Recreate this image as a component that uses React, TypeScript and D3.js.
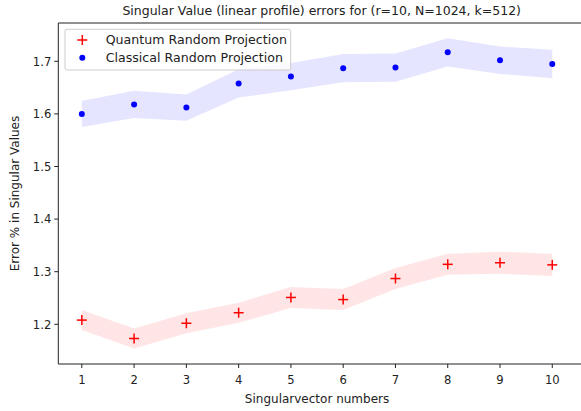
import React from "react";
import * as d3 from "d3";

const xs = [1, 2, 3, 4, 5, 6, 7, 8, 9, 10];
const quantum = [1.208, 1.173, 1.202, 1.222, 1.251, 1.247, 1.287, 1.314, 1.317, 1.313];
const quantumErr = [0.019, 0.019, 0.019, 0.019, 0.020, 0.020, 0.020, 0.020, 0.021, 0.021];
const classical = [1.600, 1.618, 1.612, 1.658, 1.671, 1.687, 1.688, 1.717, 1.702, 1.695];
const classicalErr = [0.025, 0.026, 0.025, 0.027, 0.026, 0.027, 0.027, 0.027, 0.026, 0.027];
const yTicks = [1.2, 1.3, 1.4, 1.5, 1.6, 1.7];
const title = "Singular Value (linear profile) errors for (r=10, N=1024, k=512)";
const xLabel = "Singularvector numbers";
const yLabel = "Error % in Singular Values";
const legendLabels = ["Quantum Random Projection", "Classical Random Projection"];

const W = 581, H = 411;
const L = 58.3, R = 575.8, T = 23, B = 364;
const font = "DejaVu Sans, sans-serif";

export default function App() {
  const x = d3.scaleLinear().domain([0.55, 10.45]).range([L, R]);
  const y = d3.scaleLinear().domain([1.7, 1.2]).range([61.3, 324.3]);
  const area = (vals: number[], errs: number[]) =>
    d3.area<number>()
      .x((_, i) => x(xs[i]))
      .y0((v, i) => y(v - errs[i]))
      .y1((v, i) => y(v + errs[i]))(vals) || "";
  return (
    <svg width={W} height={H} style={{ position: "absolute", left: 0, top: 0 }} fontFamily={font}>
      <rect width={W} height={H} fill="#fff" />
      <path d={area(classical, classicalErr)} fill="#0000ff" fillOpacity={0.1} />
      <path d={area(quantum, quantumErr)} fill="#ff0000" fillOpacity={0.1} />
      {classical.map((v, i) => (
        <circle key={"c" + i} cx={x(xs[i])} cy={y(v)} r={3} fill="#0000ff" />
      ))}
      {quantum.map((v, i) => (
        <g key={"q" + i} stroke="#ff0000" strokeWidth={1.5}>
          <line x1={x(xs[i]) - 5} x2={x(xs[i]) + 5} y1={y(v)} y2={y(v)} />
          <line x1={x(xs[i])} x2={x(xs[i])} y1={y(v) - 5} y2={y(v) + 5} />
        </g>
      ))}
      <g stroke="#222" strokeWidth={1} fill="none">
        <line x1={L} x2={L} y1={T} y2={B} />
        <line x1={L} x2={W} y1={B} y2={B} />
        <line x1={L} x2={W} y1={T} y2={T} />
      </g>
      {xs.map((t) => (
        <g key={"xt" + t}>
          <line x1={x(t)} x2={x(t)} y1={B} y2={B + 4} stroke="#222" />
          <text x={x(t)} y={B + 20} textAnchor="middle" fontSize={11.6} fill="#222">{t}</text>
        </g>
      ))}
      {yTicks.map((t) => (
        <g key={"yt" + t}>
          <line x1={L - 4} x2={L} y1={y(t)} y2={y(t)} stroke="#222" />
          <text x={L - 7} y={y(t) + 4.2} textAnchor="end" fontSize={11.6} fill="#222">{t.toFixed(1)}</text>
        </g>
      ))}
      <text x={(L + R) / 2} y={403} textAnchor="middle" fontSize={12} fill="#222">{xLabel}</text>
      <text transform={`translate(19,${(T + B) / 2}) rotate(-90)`} textAnchor="middle" fontSize={12} fill="#222">{yLabel}</text>
      <text x={321.7} y={14.5} textAnchor="middle" fontSize={12.5} fill="#222">{title}</text>
      <rect x={65} y={29.3} width={225.7} height={40.7} rx={2} fill="#fff" fillOpacity={0.8} stroke="#ccc" />
      <g stroke="#ff0000" strokeWidth={1.5}>
        <line x1={82.3 - 5} x2={82.3 + 5} y1={40} y2={40} />
        <line x1={82.3} x2={82.3} y1={35} y2={45} />
      </g>
      <circle cx={82.3} cy={57.7} r={3} fill="#0000ff" />
      <text x={105.7} y={44.3} fontSize={12.6} fill="#222">{legendLabels[0]}</text>
      <text x={105.7} y={62} fontSize={12.6} fill="#222">{legendLabels[1]}</text>
    </svg>
  );
}
